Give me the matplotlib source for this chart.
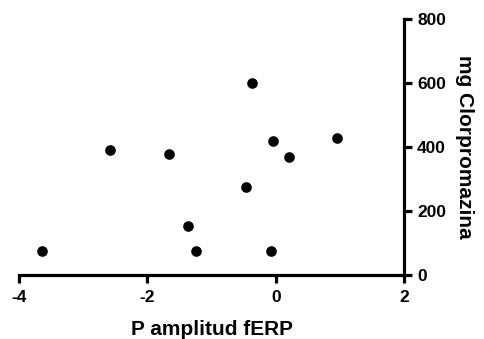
import matplotlib
matplotlib.use("Agg")
import matplotlib.pyplot as plt

# data
p_amplitud = [-3.64, -2.59, -1.67, -1.36, -1.24, -0.46, -0.37, -0.08, -0.04, 0.21, 0.95]
mg_clorpromazina = [77, 391, 378, 155, 77, 276, 600, 77, 420, 370, 430]

xticks = [-4, -2, 0, 2]
yticks = [0, 200, 400, 600, 800]

plt.rcParams['font.family'] = ['Liberation Sans', 'DejaVu Sans']
plt.rcParams['font.weight'] = 'bold'
plt.rcParams['axes.unicode_minus'] = False

fig = plt.figure(figsize=(4.84, 3.39), dpi=100)
ax = fig.add_axes([0.0393, 0.188, 0.7955, 0.756])

ax.scatter(p_amplitud, mg_clorpromazina, s=44, color='black', zorder=3, clip_on=False)

ax.set_xlim(-4, 2)
ax.set_ylim(0, 800)
ax.set_xticks(xticks)
ax.set_yticks(yticks)

ax.spines['left'].set_visible(False)
ax.spines['top'].set_visible(False)
ax.spines['right'].set_linewidth(2.3)
ax.spines['bottom'].set_linewidth(2.3)

ax.yaxis.tick_right()
ax.yaxis.set_label_position('right')
ax.tick_params(axis='both', direction='out', length=5.5, width=2.3, labelsize=12.5)
ax.tick_params(axis='x', pad=5)
ax.tick_params(axis='y', pad=4)

for lab in ax.get_xticklabels() + ax.get_yticklabels():
    lab.set_fontweight('bold')

ax.set_xlabel('P amplitud fERP', fontsize=15, fontweight='bold', labelpad=11)
ax.set_ylabel('mg Clorpromazina', fontsize=15, fontweight='bold', rotation=270, labelpad=20)

fig.savefig('out.png', dpi=100)
